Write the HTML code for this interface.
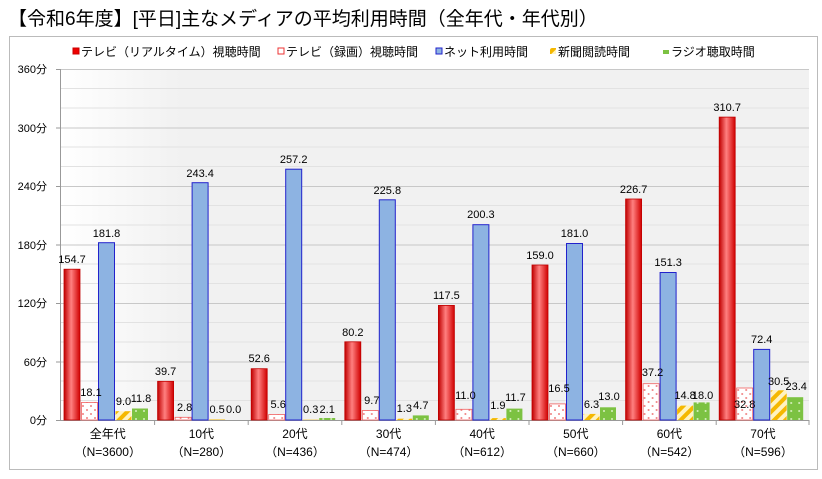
<!DOCTYPE html>
<html><head><meta charset="utf-8"><style>
body{margin:0;background:#fff;width:822px;height:474px;overflow:hidden;font-family:"Liberation Sans","Noto Sans CJK JP",sans-serif}
</style></head><body>
<svg width="822" height="474" xmlns="http://www.w3.org/2000/svg" font-family="Liberation Sans, Noto Sans CJK JP, sans-serif">
<defs>
<linearGradient id="rd" x1="0" x2="1" y1="0" y2="0"><stop offset="0" stop-color="#c00000"/><stop offset="0.45" stop-color="#ff8080"/><stop offset="1" stop-color="#d00000"/></linearGradient>
<linearGradient id="bgg" x1="0" x2="1"><stop offset="0" stop-color="#fff"/><stop offset="0.16" stop-color="#f1f1f1"/><stop offset="1" stop-color="#f1f1f1"/></linearGradient>
<pattern id="pk" width="8" height="8" patternUnits="userSpaceOnUse"><rect width="8" height="8" fill="#fff"/><circle cx="2" cy="2" r="1" fill="#f08080"/><circle cx="6" cy="6" r="1" fill="#f08080"/></pattern>
<pattern id="yl" width="8" height="8" patternUnits="userSpaceOnUse" patternTransform="rotate(45)"><rect width="8" height="8" fill="#fff3c0"/><rect width="4" height="8" fill="#f5b800"/></pattern>
<pattern id="gr" width="8" height="8" patternUnits="userSpaceOnUse"><rect width="8" height="8" fill="#7cc242"/><circle cx="3" cy="3" r="1" fill="#d8f0c0"/></pattern>
</defs>
<text x="8" y="25" font-size="19" fill="#000">【令和6年度】[平日]主なメディアの平均利用時間（全年代・年代別）</text>
<rect x="9.5" y="36.5" width="808" height="433" fill="#fff" stroke="#bbb"/>
<rect x="61" y="69" width="748" height="351" fill="url(#bgg)"/>
<g stroke="#e2e2e2" stroke-width="1">
<line x1="61" x2="809" y1="88.5" y2="88.5"/><line x1="61" x2="809" y1="108" y2="108"/><line x1="61" x2="809" y1="147" y2="147"/><line x1="61" x2="809" y1="166.5" y2="166.5"/><line x1="61" x2="809" y1="205.5" y2="205.5"/><line x1="61" x2="809" y1="225" y2="225"/><line x1="61" x2="809" y1="264" y2="264"/><line x1="61" x2="809" y1="283.5" y2="283.5"/><line x1="61" x2="809" y1="322.5" y2="322.5"/><line x1="61" x2="809" y1="342" y2="342"/><line x1="61" x2="809" y1="381" y2="381"/><line x1="61" x2="809" y1="400.5" y2="400.5"/>
</g>
<g stroke="#c8c8c8" stroke-width="1">
<line x1="61" x2="809" y1="69.5" y2="69.5"/><line x1="61" x2="809" y1="128" y2="128"/><line x1="61" x2="809" y1="186.5" y2="186.5"/><line x1="61" x2="809" y1="245" y2="245"/><line x1="61" x2="809" y1="303.5" y2="303.5"/><line x1="61" x2="809" y1="362" y2="362"/>
</g>
<g stroke="#999"><line x1="60.5" x2="60.5" y1="69" y2="420"/><line x1="56" x2="809" y1="420.5" y2="420.5"/>
<line x1="56" x2="61" y1="69.5" y2="69.5"/><line x1="56" x2="61" y1="128" y2="128"/><line x1="56" x2="61" y1="186.5" y2="186.5"/><line x1="56" x2="61" y1="245" y2="245"/><line x1="56" x2="61" y1="303.5" y2="303.5"/><line x1="56" x2="61" y1="362" y2="362"/>
<line x1="154.6" x2="154.6" y1="420" y2="425"/><line x1="248.2" x2="248.2" y1="420" y2="425"/><line x1="341.8" x2="341.8" y1="420" y2="425"/><line x1="435.4" x2="435.4" y1="420" y2="425"/><line x1="529" x2="529" y1="420" y2="425"/><line x1="622.6" x2="622.6" y1="420" y2="425"/><line x1="716.2" x2="716.2" y1="420" y2="425"/><line x1="809" x2="809" y1="420" y2="425"/>
</g>
<g font-size="11" fill="#000" text-anchor="end">
<text x="47" y="73">360分</text><text x="47" y="132">300分</text><text x="47" y="190">240分</text><text x="47" y="249">180分</text><text x="47" y="307">120分</text><text x="47" y="366">60分</text><text x="47" y="424">0分</text>
</g>
<!-- legend -->
<g font-size="12" fill="#000">
<rect x="73" y="48" width="6" height="6" fill="#e00" stroke="#c00"/><text x="81" y="56">テレビ（リアルタイム）視聴時間</text>
<rect x="278" y="48" width="6" height="6" fill="#fff" stroke="#e33"/><text x="286" y="56">テレビ（録画）視聴時間</text>
<rect x="436" y="48" width="6" height="6" fill="#8db3e2" stroke="#22c"/><text x="444" y="56">ネット利用時間</text>
<rect x="550" y="48" width="6" height="6" fill="url(#yl)"/><text x="558" y="56">新聞閲読時間</text>
<rect x="663" y="50" width="6" height="4" fill="#7cc242"/><text x="671" y="56">ラジオ聴取時間</text>
</g>
<g font-size="11" fill="#000" text-anchor="middle">
<!-- G0 -->
<g transform="translate(61,0)">
<rect x="3" y="269.2" width="16" height="150.8" fill="url(#rd)" stroke="#c00000" stroke-width="0.8"/>
<rect x="20.5" y="402.4" width="16" height="17.6" fill="url(#pk)" stroke="#f06060" stroke-width="0.8"/>
<rect x="37.5" y="242.7" width="16" height="177.3" fill="#8db3e2" stroke="#2222cc"/>
<rect x="54.5" y="411.2" width="16" height="8.8" fill="url(#yl)"/>
<rect x="71" y="408.5" width="16" height="11.5" fill="url(#gr)"/>
<text x="11" y="263">154.7</text><text x="30" y="396">18.1</text><text x="45.5" y="237">181.8</text><text x="62.5" y="405">9.0</text><text x="80" y="402">11.8</text>
<text x="46.8" y="438" font-size="12">全年代</text><text x="46.8" y="456" font-size="12">（N=3600）</text>
</g>
<g transform="translate(154.6,0)">
<rect x="3" y="381.3" width="16" height="38.7" fill="url(#rd)" stroke="#c00000" stroke-width="0.8"/>
<rect x="20.5" y="417.3" width="16" height="2.7" fill="url(#pk)" stroke="#f06060" stroke-width="0.8"/>
<rect x="37.5" y="182.7" width="16" height="237.3" fill="#8db3e2" stroke="#2222cc"/>
<rect x="54.5" y="419.5" width="16" height="0.5" fill="#f5b800"/>
<text x="11" y="375">39.7</text><text x="30" y="411">2.8</text><text x="45.5" y="177">243.4</text><text x="62.5" y="413">0.5</text><text x="79" y="413">0.0</text>
<text x="46.8" y="438" font-size="12">10代</text><text x="46.8" y="456" font-size="12">（N=280）</text>
</g>
<g transform="translate(248.2,0)">
<rect x="3" y="368.7" width="16" height="51.3" fill="url(#rd)" stroke="#c00000" stroke-width="0.8"/>
<rect x="20.5" y="414.5" width="16" height="5.5" fill="url(#pk)" stroke="#f06060" stroke-width="0.8"/>
<rect x="37.5" y="169.2" width="16" height="250.8" fill="#8db3e2" stroke="#2222cc"/>
<rect x="54.5" y="419.7" width="16" height="0.3" fill="#f5b800"/>
<rect x="71" y="418" width="16" height="2" fill="url(#gr)"/>
<text x="11" y="362">52.6</text><text x="30" y="408">5.6</text><text x="45.5" y="163">257.2</text><text x="62.5" y="413">0.3</text><text x="79" y="413">2.1</text>
<text x="46.8" y="438" font-size="12">20代</text><text x="46.8" y="456" font-size="12">（N=436）</text>
</g>
<g transform="translate(341.8,0)">
<rect x="3" y="341.8" width="16" height="78.2" fill="url(#rd)" stroke="#c00000" stroke-width="0.8"/>
<rect x="20.5" y="410.5" width="16" height="9.5" fill="url(#pk)" stroke="#f06060" stroke-width="0.8"/>
<rect x="37.5" y="199.8" width="16" height="220.2" fill="#8db3e2" stroke="#2222cc"/>
<rect x="54.5" y="418.7" width="16" height="1.3" fill="url(#yl)"/>
<rect x="71" y="415.4" width="16" height="4.6" fill="url(#gr)"/>
<text x="11" y="336">80.2</text><text x="30" y="404">9.7</text><text x="45.5" y="194">225.8</text><text x="62.5" y="412">1.3</text><text x="79" y="409">4.7</text>
<text x="46.8" y="438" font-size="12">30代</text><text x="46.8" y="456" font-size="12">（N=474）</text>
</g>
<g transform="translate(435.4,0)">
<rect x="3" y="305.4" width="16" height="114.6" fill="url(#rd)" stroke="#c00000" stroke-width="0.8"/>
<rect x="20.5" y="409.3" width="16" height="10.7" fill="url(#pk)" stroke="#f06060" stroke-width="0.8"/>
<rect x="37.5" y="224.7" width="16" height="195.3" fill="#8db3e2" stroke="#2222cc"/>
<rect x="54.5" y="418.1" width="16" height="1.9" fill="url(#yl)"/>
<rect x="71" y="408.6" width="16" height="11.4" fill="url(#gr)"/>
<text x="11" y="299">117.5</text><text x="30" y="399">11.0</text><text x="45.5" y="218">200.3</text><text x="62.5" y="409">1.9</text><text x="80" y="401">11.7</text>
<text x="46.8" y="438" font-size="12">40代</text><text x="46.8" y="456" font-size="12">（N=612）</text>
</g>
<g transform="translate(529,0)">
<rect x="3" y="265" width="16" height="155" fill="url(#rd)" stroke="#c00000" stroke-width="0.8"/>
<rect x="20.5" y="403.9" width="16" height="16.1" fill="url(#pk)" stroke="#f06060" stroke-width="0.8"/>
<rect x="37.5" y="243.5" width="16" height="176.5" fill="#8db3e2" stroke="#2222cc"/>
<rect x="54.5" y="413.9" width="16" height="6.1" fill="url(#yl)"/>
<rect x="71" y="407.3" width="16" height="12.7" fill="url(#gr)"/>
<text x="11" y="259">159.0</text><text x="30" y="392">16.5</text><text x="45.5" y="237">181.0</text><text x="62.5" y="408">6.3</text><text x="80" y="400">13.0</text>
<text x="46.8" y="438" font-size="12">50代</text><text x="46.8" y="456" font-size="12">（N=660）</text>
</g>
<g transform="translate(622.6,0)">
<rect x="3" y="199" width="16" height="221" fill="url(#rd)" stroke="#c00000" stroke-width="0.8"/>
<rect x="20.5" y="383.7" width="16" height="36.3" fill="url(#pk)" stroke="#f06060" stroke-width="0.8"/>
<rect x="37.5" y="272.5" width="16" height="147.5" fill="#8db3e2" stroke="#2222cc"/>
<rect x="54.5" y="405.6" width="16" height="14.4" fill="url(#yl)"/>
<rect x="71" y="402.4" width="16" height="17.6" fill="url(#gr)"/>
<text x="11" y="193">226.7</text><text x="30" y="376">37.2</text><text x="45.5" y="266">151.3</text><text x="62.5" y="399">14.8</text><text x="80" y="399">18.0</text>
<text x="46.8" y="438" font-size="12">60代</text><text x="46.8" y="456" font-size="12">（N=542）</text>
</g>
<g transform="translate(716.2,0)">
<rect x="3" y="117.1" width="16" height="302.9" fill="url(#rd)" stroke="#c00000" stroke-width="0.8"/>
<rect x="20.5" y="388" width="16" height="32" fill="url(#pk)" stroke="#f06060" stroke-width="0.8"/>
<rect x="37.5" y="349.4" width="16" height="70.6" fill="#8db3e2" stroke="#2222cc"/>
<rect x="54.5" y="390.3" width="16" height="29.7" fill="url(#yl)"/>
<rect x="71" y="397.2" width="16" height="22.8" fill="url(#gr)"/>
<text x="11" y="111">310.7</text><text x="28.5" y="408">32.8</text><text x="45.5" y="343">72.4</text><text x="62.5" y="385">30.5</text><text x="80" y="390">23.4</text>
<text x="46.8" y="438" font-size="12">70代</text><text x="46.8" y="456" font-size="12">（N=596）</text>
</g>
</g>
</svg>
</body></html>
